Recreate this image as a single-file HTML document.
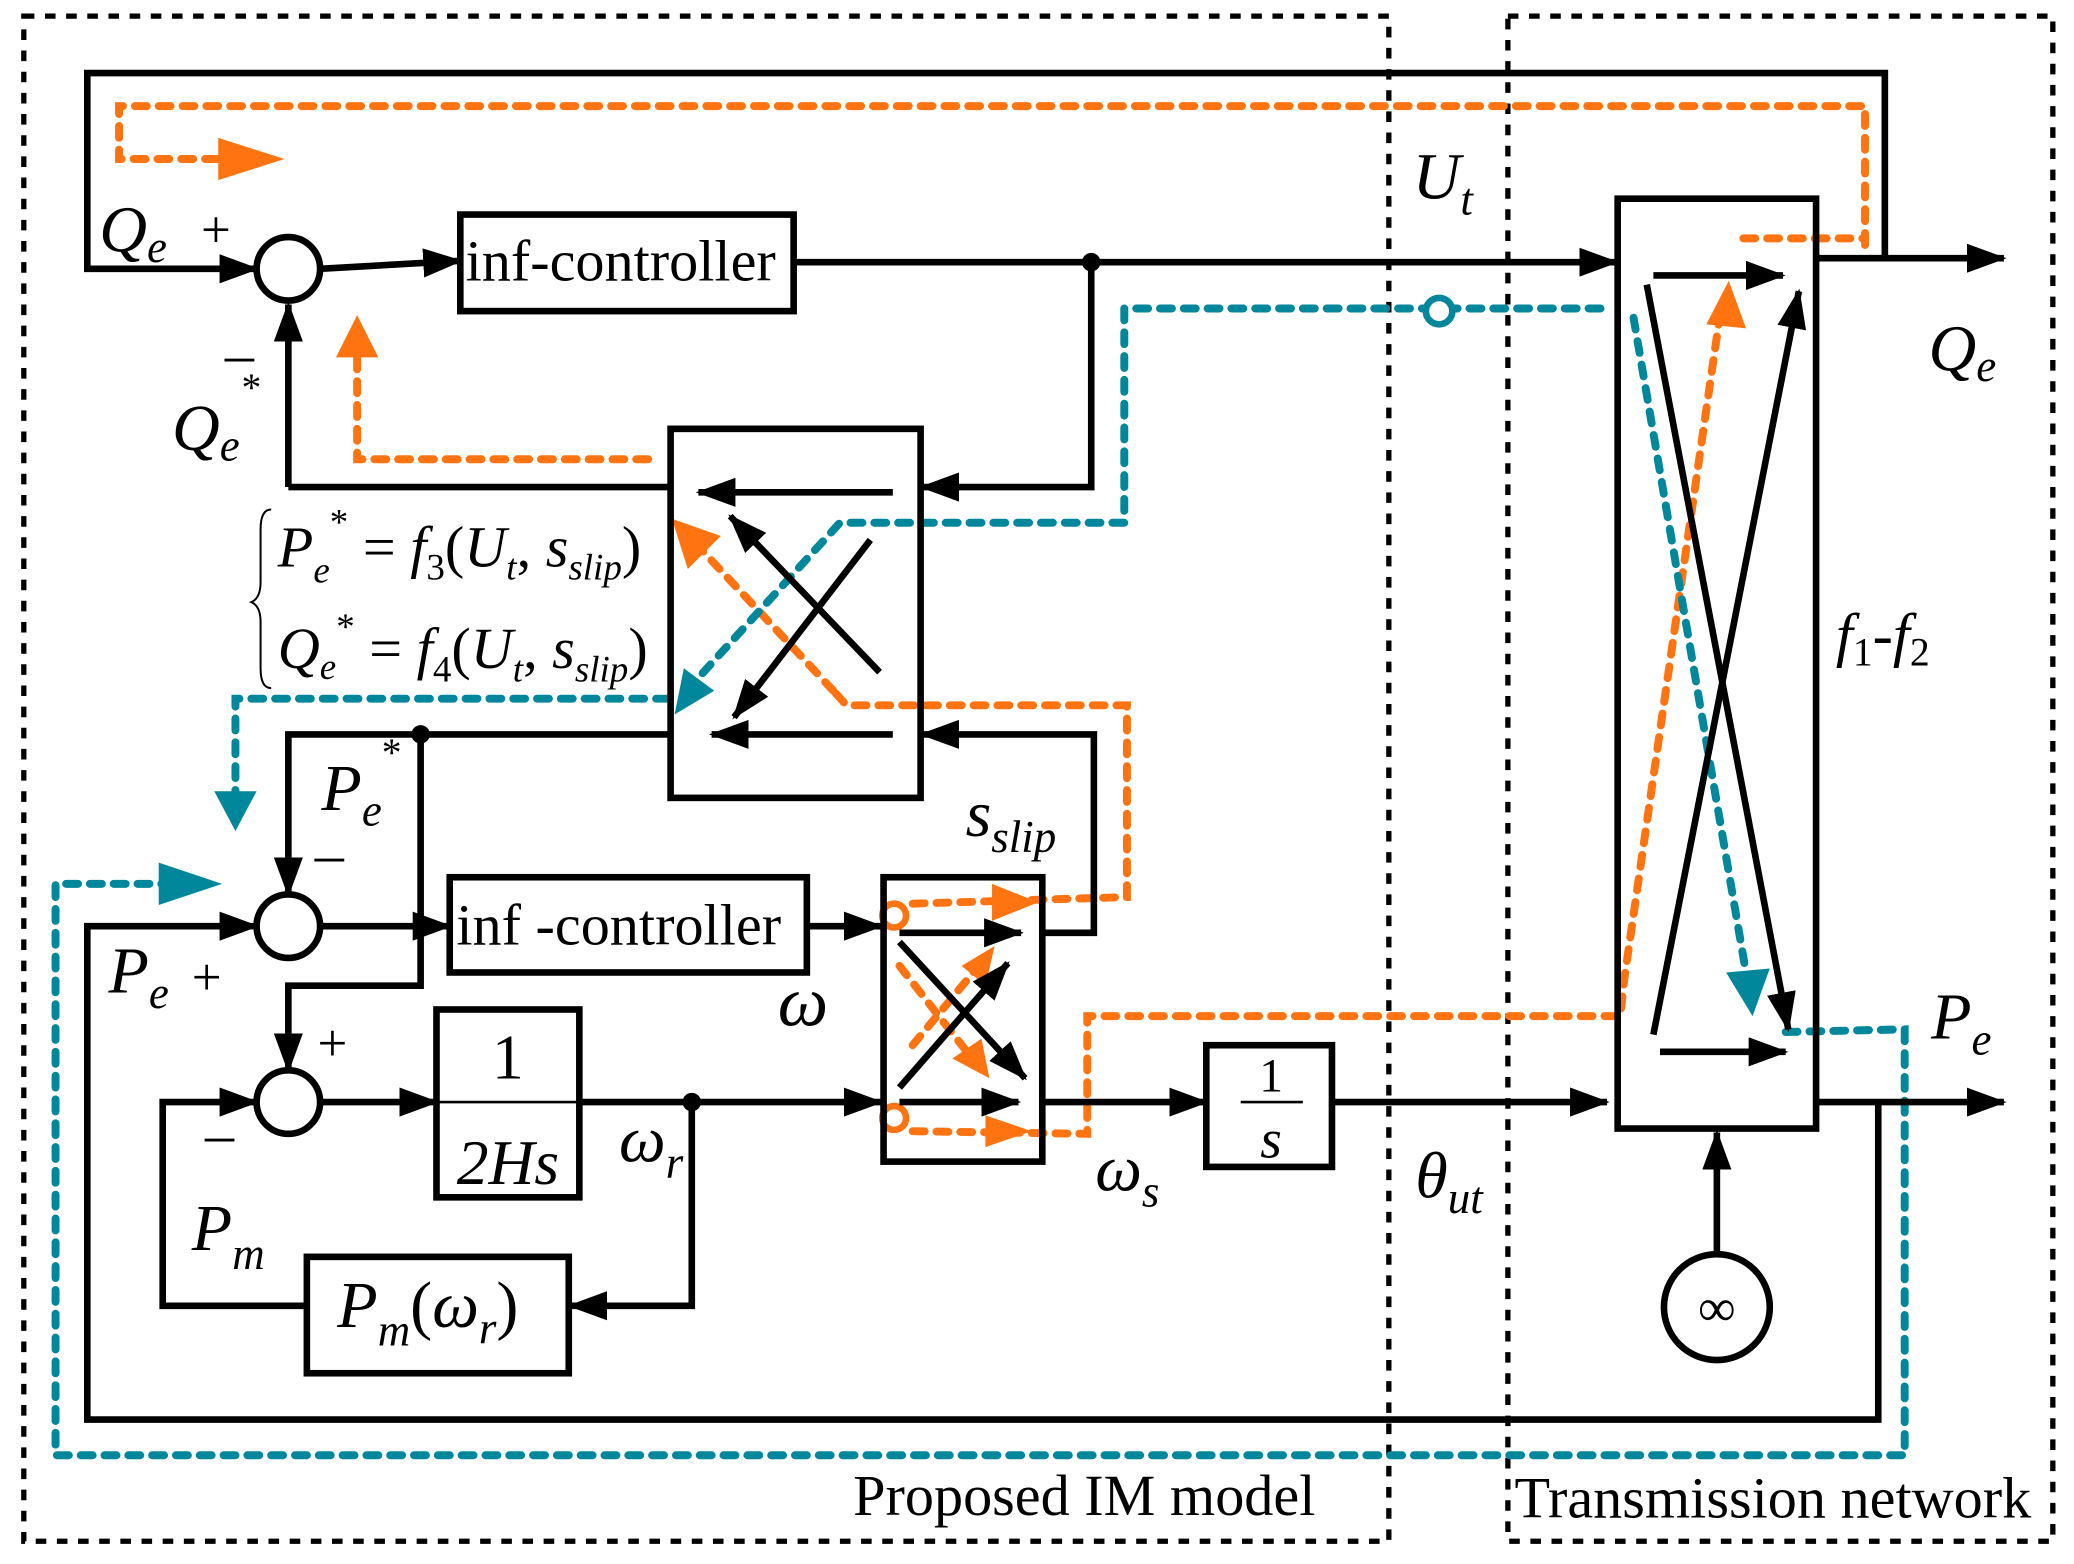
<!DOCTYPE html>
<html><head><meta charset="utf-8"><style>html,body{margin:0;padding:0;background:#fff}svg{display:block}</style></head>
<body>
<svg width="2074" height="1564" viewBox="0 0 1568 1182" xmlns="http://www.w3.org/2000/svg" font-family="'Liberation Serif',serif">
<defs>
<marker id="a" markerWidth="30" markerHeight="22" refX="28" refY="11" orient="auto" markerUnits="userSpaceOnUse" viewBox="0 0 30 22"><path d="M0,0L30,11L0,22z" fill="#000"/></marker>
</defs>
<style>
.k{stroke:#000;stroke-width:5;fill:none}
.o{stroke:#ff7411;stroke-width:6;fill:none;stroke-dasharray:9 9;stroke-linecap:round}
.t{stroke:#00879b;stroke-width:6;fill:none;stroke-dasharray:9 9;stroke-linecap:round}
.d{stroke:#000;stroke-width:4;fill:none;stroke-dasharray:8 8}
text{font-style:italic}
.n{font-style:normal}
</style>
<rect class="d" x="18" y="12" width="1032" height="1153"/>
<rect class="d" x="1140" y="12" width="412" height="1153"/>
<text class="n" x="645" y="1145" font-size="44">Proposed IM model</text>
<text class="n" x="1145" y="1147" font-size="44">Transmission network</text>

<polyline class="o" points="1410,185 1410,80 90,80 90,120 180,120"/>
<path d="M165,104 L215,120 L165,136z" fill="#ff7411"/>
<polyline class="o" points="490,347 270,347 270,270"/>
<path d="M254,270 L270,238 L286,270z" fill="#ff7411"/>
<polyline class="o" points="630,522 530,415"/>
<path d="M508,392 L545,405 L520,430z" fill="#ff7411"/>
<polyline class="o" points="690,683 785,680 852,678 852,533 640,533 630,522"/>
<path d="M750,668 L785,682 L750,696z" fill="#ff7411"/>
<polyline class="o" points="690,855 822,857 822,768 1225,768 1228,740 1300,240"/>
<path d="M1290,245 L1307,212 L1320,248z" fill="#ff7411"/>
<polyline class="o" points="1318,180 1410,180"/>
<polyline class="o" points="680,730 735,800"/>
<path d="M720,800 L748,815 L742,785z" fill="#ff7411"/>
<polyline class="o" points="690,790 740,730"/>
<path d="M727,730 L752,715 L745,745z" fill="#ff7411"/>
<path d="M745,843 L780,855 L745,867z" fill="#ff7411"/>
<circle cx="676" cy="692" r="9" fill="#fff" stroke="#ff7411" stroke-width="5"/>
<circle cx="676" cy="845" r="9" fill="#fff" stroke="#ff7411" stroke-width="5"/>

<polyline class="t" points="1210,233 850,233 850,395 635,395 530,510"/>
<path d="M510,540 L517,505 L540,522z" fill="#00879b"/>
<polyline class="t" points="1235,240 1320,735"/>
<path d="M1305,735 L1325,768 L1338,732z" fill="#00879b"/>
<polyline class="t" points="1350,780 1440,778 1440,1100 42,1100 42,668 130,668"/>
<path d="M120,652 L168,668 L120,684z" fill="#00879b"/>
<polyline class="t" points="505,528 178,528 178,600"/>
<path d="M162,598 L178,628 L194,598z" fill="#00879b"/>
<circle cx="1088" cy="235" r="10" fill="#fff" stroke="#00879b" stroke-width="5"/>

<polyline class="k" points="1425,195 1425,55 66,55 66,203 194,203" marker-end="url(#a)"/>
<circle cx="218" cy="203" r="24" class="k"/>
<text x="75" y="190" font-size="50">Q<tspan font-size="34" dy="8">e</tspan></text>
<text class="n" x="152" y="187" font-size="40">+</text>
<text class="n" x="170" y="282" font-size="44">–</text>
<text x="130" y="340" font-size="50">Q<tspan font-size="34" dy="8">e</tspan><tspan font-size="30" dy="-45" dx="0">*</tspan></text>
<line class="k" x1="242" y1="203" x2="348" y2="197" marker-end="url(#a)"/>
<rect class="k" x="348" y="162" width="252" height="73"/>
<text class="n" x="352" y="212" font-size="44">inf-controller</text>
<line class="k" x1="600" y1="198" x2="1222" y2="198" marker-end="url(#a)"/>
<circle cx="825" cy="198" r="7"/>
<polyline class="k" points="825,198 825,368 697,368" marker-end="url(#a)"/>
<text x="1068" y="150" font-size="50">U<tspan font-size="34" dy="12">t</tspan></text>
<polyline class="k" points="218,368 218,230" marker-end="url(#a)"/>
<line class="k" x1="507" y1="368" x2="218" y2="368"/>

<rect class="k" x="1223" y="150" width="150" height="703"/>
<line class="k" x1="1250" y1="208" x2="1348" y2="208" marker-end="url(#a)"/>
<line class="k" x1="1245" y1="215" x2="1352" y2="778" marker-end="url(#a)"/>
<line class="k" x1="1250" y1="782" x2="1360" y2="220" marker-end="url(#a)"/>
<line class="k" x1="1255" y1="795" x2="1350" y2="795" marker-end="url(#a)"/>
<line class="k" x1="1373" y1="195" x2="1515" y2="195" marker-end="url(#a)"/>
<text x="1458" y="280" font-size="50">Q<tspan font-size="34" dy="8">e</tspan></text>
<text x="1388" y="495" font-size="46">f<tspan font-size="30" dy="8" class="n">1</tspan><tspan dy="-8" class="n">-</tspan>f<tspan font-size="30" dy="8" class="n">2</tspan></text>
<line class="k" x1="1373" y1="833" x2="1515" y2="833" marker-end="url(#a)"/>
<text x="1460" y="785" font-size="50">P<tspan font-size="34" dy="12">e</tspan></text>
<circle cx="1298" cy="988" r="40" class="k"/>
<text class="n" x="1298" y="1002" font-size="40" text-anchor="middle">∞</text>
<line class="k" x1="1298" y1="948" x2="1298" y2="856" marker-end="url(#a)"/>
<polyline class="k" points="1420,833 1420,1073 66,1073 66,700 194,700" marker-end="url(#a)"/>

<rect class="k" x="507" y="324" width="189" height="279"/>
<line class="k" x1="675" y1="372" x2="528" y2="372" marker-end="url(#a)"/>
<line class="k" x1="665" y1="508" x2="552" y2="390" marker-end="url(#a)"/>
<line class="k" x1="658" y1="408" x2="555" y2="542" marker-end="url(#a)"/>
<line class="k" x1="675" y1="555" x2="538" y2="555" marker-end="url(#a)"/>
<path d="M205,385 Q197,385 197,400 L197,440 Q197,452 190,455 Q197,458 197,470 L197,505 Q197,520 205,520" stroke="#000" stroke-width="1.5" fill="none"/>
<text x="210" y="428" font-size="44">P<tspan font-size="28" dy="12">e</tspan><tspan font-size="28" dy="-36" class="n">*</tspan><tspan dy="24" class="n"> = </tspan>f<tspan font-size="28" dy="10" class="n">3</tspan><tspan dy="-10" class="n">(</tspan>U<tspan font-size="28" dy="10">t</tspan><tspan dy="-10" class="n">, </tspan>s<tspan font-size="28" dy="10">slip</tspan><tspan dy="-10" class="n">)</tspan></text>
<text x="210" y="505" font-size="44">Q<tspan font-size="28" dy="8">e</tspan><tspan font-size="28" dy="-30" class="n">*</tspan><tspan dy="22" class="n"> = </tspan>f<tspan font-size="28" dy="10" class="n">4</tspan><tspan dy="-10" class="n">(</tspan>U<tspan font-size="28" dy="10">t</tspan><tspan dy="-10" class="n">, </tspan>s<tspan font-size="28" dy="10">slip</tspan><tspan dy="-10" class="n">)</tspan></text>

<polyline class="k" points="507,555 218,555 218,676" marker-end="url(#a)"/>
<circle cx="318" cy="555" r="7"/>
<polyline class="k" points="318,555 318,745 218,745 218,809" marker-end="url(#a)"/>
<text x="243" y="612" font-size="50">P<tspan font-size="34" dy="12">e</tspan><tspan font-size="30" dy="-45" class="n">*</tspan></text>
<text class="n" x="238" y="660" font-size="44">–</text>
<circle cx="218" cy="700" r="24" class="k"/>
<line class="k" x1="242" y1="700" x2="340" y2="700" marker-end="url(#a)"/>
<rect class="k" x="340" y="663" width="270" height="72"/>
<text class="n" x="345" y="714" font-size="44">inf -controller</text>
<line class="k" x1="610" y1="700" x2="666" y2="700" marker-end="url(#a)"/>
<text x="82" y="750" font-size="50">P<tspan font-size="34" dy="12">e</tspan></text>
<text class="n" x="145" y="752" font-size="40">+</text>
<circle cx="218" cy="833" r="24" class="k"/>
<text class="n" x="240" y="802" font-size="40">+</text>
<text class="n" x="155" y="872" font-size="44">–</text>
<line class="k" x1="242" y1="833" x2="330" y2="833" marker-end="url(#a)"/>
<rect class="k" x="330" y="763" width="108" height="142"/>
<line x1="330" y1="833" x2="438" y2="833" stroke="#000" stroke-width="2"/>
<text class="n" x="384" y="815" font-size="48" text-anchor="middle">1</text>
<text x="384" y="895" font-size="48" text-anchor="middle">2Hs</text>
<line class="k" x1="438" y1="833" x2="666" y2="833" marker-end="url(#a)"/>
<circle cx="523" cy="833" r="7"/>
<polyline class="k" points="523,833 523,987 431,987" marker-end="url(#a)"/>
<rect class="k" x="232" y="950" width="198" height="88"/>
<text x="255" y="1003" font-size="50">P<tspan font-size="34" dy="14">m</tspan><tspan dy="-14" class="n">(</tspan>ω<tspan font-size="34" dy="12">r</tspan><tspan dy="-12" class="n">)</tspan></text>
<polyline class="k" points="232,987 123,987 123,833 194,833" marker-end="url(#a)"/>
<text x="145" y="945" font-size="50">P<tspan font-size="34" dy="14">m</tspan></text>
<text x="468" y="878" font-size="50">ω<tspan font-size="34" dy="12">r</tspan></text>

<rect class="k" x="668" y="663" width="120" height="215"/>
<line class="k" x1="680" y1="705" x2="772" y2="705" marker-end="url(#a)"/>
<line class="k" x1="680" y1="712" x2="775" y2="815" marker-end="url(#a)"/>
<line class="k" x1="680" y1="822" x2="762" y2="728" marker-end="url(#a)"/>
<line class="k" x1="680" y1="833" x2="770" y2="833" marker-end="url(#a)"/>
<polyline class="k" points="788,705 827,705 827,555 697,555" marker-end="url(#a)"/>
<text x="730" y="632" font-size="50">s<tspan font-size="34" dy="12">slip</tspan></text>
<text x="588" y="775" font-size="54">ω</text>
<line class="k" x1="788" y1="833" x2="912" y2="833" marker-end="url(#a)"/>
<rect class="k" x="912" y="790" width="95" height="92"/>
<line x1="938" y1="833" x2="985" y2="833" stroke="#000" stroke-width="2"/>
<text class="n" x="961" y="825" font-size="36" text-anchor="middle">1</text>
<text x="961" y="875" font-size="42" text-anchor="middle">s</text>
<line class="k" x1="1007" y1="833" x2="1215" y2="833" marker-end="url(#a)"/>
<text x="828" y="900" font-size="50">ω<tspan font-size="34" dy="12">s</tspan></text>
<text x="1070" y="905" font-size="50">θ<tspan font-size="34" dy="12">ut</tspan></text>
</svg>
</body></html>
